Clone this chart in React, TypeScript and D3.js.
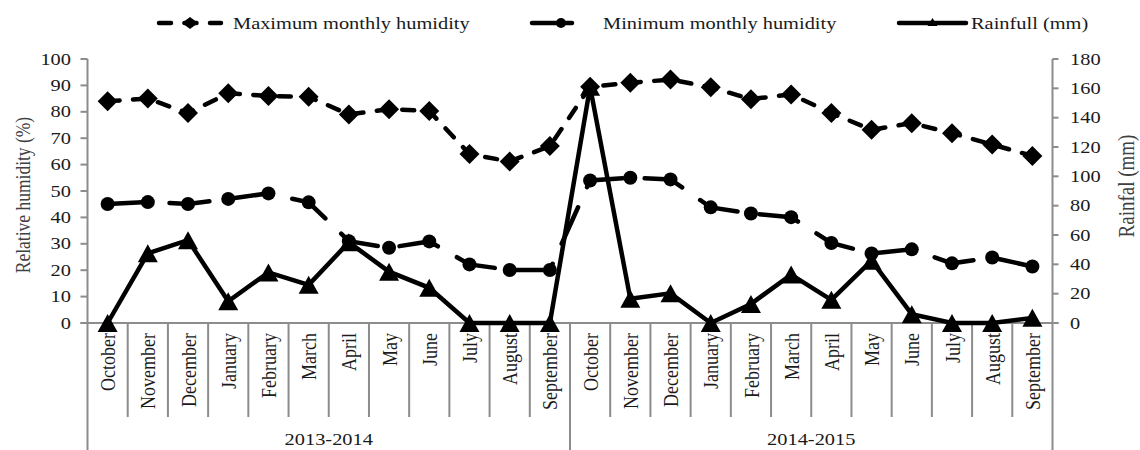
import React from "react";
import * as d3 from "d3";

const months = ["October","November","December","January","February","March","April","May","June","July","August","September"];
const seasons = ["2013-2014", "2014-2015"];
const categories = seasons.flatMap((s) => months.map((m) => `${s}|${m}`));

const maxHumidity = [84, 85, 79.5, 87, 86, 85.7, 79, 81, 80.3, 64, 61.2, 67, 89.5, 91, 92.2, 89.3, 84.8, 86.6, 79.5, 73.2, 75.7, 71.9, 67.6, 63.3];
const minHumidity = [45.1, 45.8, 45.1, 47, 49.1, 45.7, 31, 28.5, 30.9, 22.2, 20.1, 20.1, 54, 55, 54.4, 43.8, 41.5, 40.1, 30.3, 26.3, 27.9, 22.6, 24.8, 21.4];
const rainfall = [0, 47.5, 56.5, 14.8, 34.5, 26, 55, 35, 24, 0, 0, 0, 161, 16.5, 20.2, 0, 13, 33, 15.8, 42.5, 6, 0, 0, 3.5];

const leftTicks = [0, 10, 20, 30, 40, 50, 60, 70, 80, 90, 100];
const rightTicks = [0, 20, 40, 60, 80, 100, 120, 140, 160, 180];

const legendItems = [
  { label: "Maximum monthly humidity", kind: "max" },
  { label: "Minimum monthly humidity", kind: "min" },
  { label: "Rainfull (mm)", kind: "rain" },
];

const W = 1140, H = 450;
const S = 1.2; // horizontal stretch of glyphs
const L = 87.5, R = 1052.5, T = 59, B = 323;
const AXIS = "#8c8c8c";
const FONT = "'Liberation Serif', 'Times New Roman', serif";

const x = d3.scaleBand<string>().domain(categories).range([L, R]).paddingInner(0).paddingOuter(0);
const yL = d3.scaleLinear().domain([0, 100]).range([B, T]);
const yR = d3.scaleLinear().domain([0, 180]).range([B, T]);
const cx = (i: number) => (x(categories[i]) as number) + x.bandwidth() / 2;

const diamond = (px: number, py: number, hw: number, hh: number) =>
  `M${px},${py - hh}L${px + hw},${py}L${px},${py + hh}L${px - hw},${py}Z`;
const triangle = (px: number, py: number, hw: number, h: number) =>
  `M${px},${py - h / 2}L${px + hw},${py + h / 2}L${px - hw},${py + h / 2}Z`;

function HText(props: { x: number; y: number; anchor?: string; size?: number; fill?: string; children: React.ReactNode }) {
  const { x: tx, y: ty, anchor = "start", size = 17, fill = "#1a1a1a", children } = props;
  return (
    <text transform={`translate(${tx},${ty}) scale(${S},1)`} textAnchor={anchor} fontSize={size} fill={fill} fontFamily={FONT}>
      {children}
    </text>
  );
}

export default function App() {
  const lineMax = d3.line<number>().x((_, i) => cx(i)).y((d) => yL(d))(maxHumidity) as string;
  const lineMin = d3.line<number>().x((_, i) => cx(i)).y((d) => yL(d))(minHumidity) as string;
  const lineRain = d3.line<number>().x((_, i) => cx(i)).y((d) => yR(d))(rainfall) as string;
  const bw = x.bandwidth();

  const legendPos = [
    { x0: 157, x1: 223, tx: 233 },
    { x0: 530, x1: 592, tx: 603 },
    { x0: 897, x1: 968, tx: 971 },
  ];
  const ly = 23;

  return (
    <svg width={W} height={H} style={{ position: "absolute", left: 0, top: 0, background: "#fff" }} fontFamily={FONT}>
      <rect width={W} height={H} fill="#fff" />
      {/* legend */}
      {legendItems.map((it, k) => {
        const p = legendPos[k];
        const mx = (p.x0 + p.x1) / 2;
        return (
          <g key={it.label}>
            {it.kind === "max" && (
              <>
                <line x1={p.x0 + 2} x2={p.x1 - 2} y1={ly} y2={ly} stroke="#000" strokeWidth={4.5} strokeDasharray="12 13.5" strokeLinecap="round" />
                <path d={diamond(mx, ly, 8, 6)} fill="#000" />
              </>
            )}
            {it.kind === "min" && (
              <>
                <line x1={p.x0 + 2} x2={p.x1 - 2} y1={ly} y2={ly} stroke="#000" strokeWidth={4.5} strokeDasharray="40 30" strokeLinecap="round" />
                <circle cx={mx} cy={ly} r={5} fill="#000" />
              </>
            )}
            {it.kind === "rain" && (
              <>
                <line x1={p.x0 + 2} x2={p.x1 - 2} y1={ly} y2={ly} stroke="#000" strokeWidth={4.5} strokeLinecap="round" />
                <path d={triangle(mx, ly - 1, 5, 8)} fill="#000" />
              </>
            )}
            <HText x={p.tx} y={ly + 5.5}>{it.label}</HText>
          </g>
        );
      })}

      {/* left axis */}
      <line x1={L} x2={L} y1={T} y2={H} stroke={AXIS} strokeWidth={2} />
      {leftTicks.map((t) => (
        <g key={"l" + t}>
          <line x1={L - 7} x2={L} y1={yL(t)} y2={yL(t)} stroke={AXIS} strokeWidth={2} />
          <HText x={71} y={yL(t) + 5.5} anchor="end">{t}</HText>
        </g>
      ))}
      <text transform={`translate(29.5,195) scale(${S},1) rotate(-90)`} textAnchor="middle" fontSize={17.5} fill="#404040" fontFamily={FONT}>
        Relative humidity (%)
      </text>

      {/* right axis */}
      <line x1={R} x2={R} y1={T} y2={H} stroke={AXIS} strokeWidth={2} />
      {rightTicks.map((t) => (
        <g key={"r" + t}>
          <line x1={R} x2={R + 6} y1={yR(t)} y2={yR(t)} stroke={AXIS} strokeWidth={2} />
          <HText x={1070} y={yR(t) + 5.5}>{t}</HText>
        </g>
      ))}
      <text transform={`translate(1134,186) scale(${S},1) rotate(-90)`} textAnchor="middle" fontSize={19} fill="#404040" fontFamily={FONT}>
        Rainfal (mm)
      </text>

      {/* x axis */}
      <line x1={L - 7} x2={R + 6} y1={B} y2={B} stroke={AXIS} strokeWidth={2} />
      {categories.map((c, i) => {
        const x0 = x(c) as number;
        const isGroupEdge = i % 12 === 0;
        return (
          <g key={c}>
            {i > 0 && (
              <line x1={x0} x2={x0} y1={B} y2={isGroupEdge ? H : 417} stroke={AXIS} strokeWidth={2} />
            )}
            <text
              transform={`translate(${x0 + bw / 2},333) scale(${S},1) rotate(-90)`}
              textAnchor="end"
              dy="0.35em"
              fontSize={18}
              fill="#1a1a1a"
              fontFamily={FONT}
            >
              {c.split("|")[1]}
            </text>
          </g>
        );
      })}
      {seasons.map((s, k) => {
        const a = x(categories[k * 12]) as number;
        const b = (x(categories[k * 12 + 11]) as number) + bw;
        return (
          <HText key={s} x={(a + b) / 2} y={445} anchor="middle">{s}</HText>
        );
      })}

      {/* series */}
      <path d={lineMax} fill="none" stroke="#000" strokeWidth={4.5} strokeDasharray="12 13.5" strokeLinecap="round" />
      {maxHumidity.map((d, i) => (
        <path key={"dm" + i} d={diamond(cx(i), yL(d), 10, 10)} fill="#000" />
      ))}
      <path d={lineMin} fill="none" stroke="#000" strokeWidth={4.5} strokeDasharray="40 22" strokeLinecap="round" />
      {minHumidity.map((d, i) => (
        <circle key={"cm" + i} cx={cx(i)} cy={yL(d)} r={7} fill="#000" />
      ))}
      <path d={lineRain} fill="none" stroke="#000" strokeWidth={4.5} strokeLinejoin="miter" />
      {rainfall.map((d, i) => (
        <path key={"tr" + i} d={triangle(cx(i), yR(d), 10, 18)} fill="#000" />
      ))}
    </svg>
  );
}
